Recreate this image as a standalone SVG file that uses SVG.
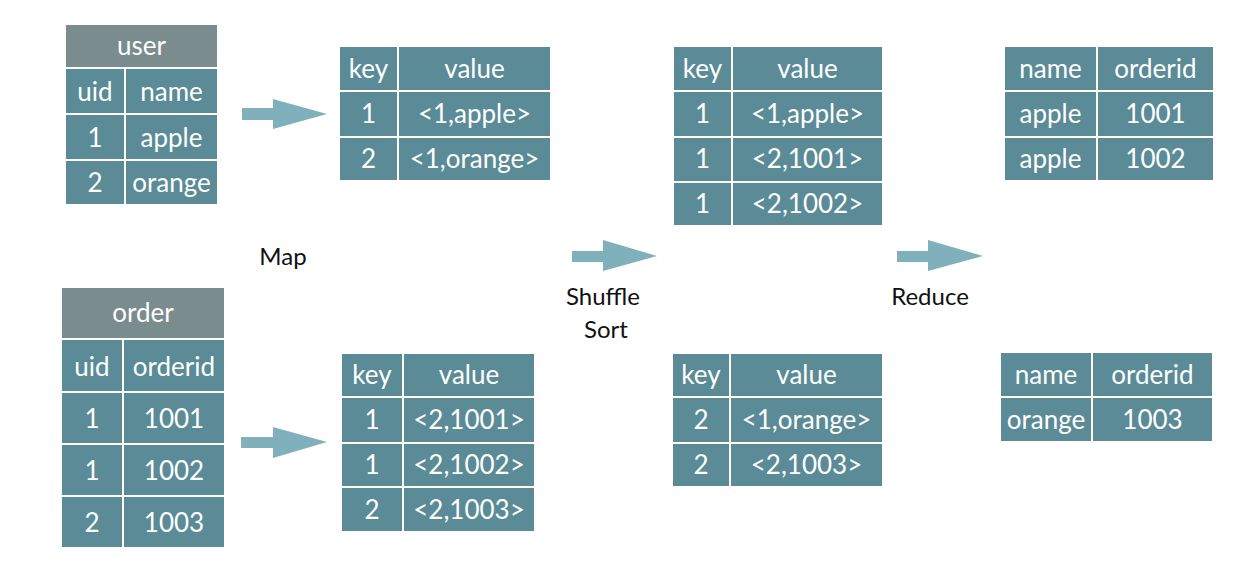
<svg xmlns="http://www.w3.org/2000/svg" width="1246" height="563" viewBox="0 0 1246 563">
<style>
.c{fill:#5a8b97;stroke:#ffffff;stroke-width:2}
.h{fill:#7a8c8e;stroke:#ffffff;stroke-width:2}
.t{font-family:"Lato","Open Sans",sans-serif;font-size:26px;fill:#ffffff;text-anchor:middle}
.l{font-family:"Lato","Open Sans",sans-serif;font-size:24px;fill:#111111;text-anchor:middle}
.a{fill:#7fb0bb}
</style>
<rect width="1246" height="563" fill="#ffffff"/>
<g id="user">
<rect class="h" x="65" y="24" width="153" height="44"/>
<rect class="c" x="65" y="68" width="60" height="46"/><rect class="c" x="125" y="68" width="93" height="46"/>
<rect class="c" x="65" y="114" width="60" height="46"/><rect class="c" x="125" y="114" width="93" height="46"/>
<rect class="c" x="65" y="160" width="60" height="45"/><rect class="c" x="125" y="160" width="93" height="45"/>
<text class="t" x="141.5" y="55">user</text>
<text class="t" x="95" y="101">uid</text><text class="t" x="171.5" y="101">name</text>
<text class="t" x="95" y="147">1</text><text class="t" x="171.5" y="147">apple</text>
<text class="t" x="95" y="192">2</text><text class="t" x="171.5" y="192">orange</text>
</g>
<g id="order">
<rect class="h" x="61" y="287" width="164" height="52"/>
<rect class="c" x="61" y="339" width="62" height="53"/><rect class="c" x="123" y="339" width="102" height="53"/>
<rect class="c" x="61" y="392" width="62" height="52"/><rect class="c" x="123" y="392" width="102" height="52"/>
<rect class="c" x="61" y="444" width="62" height="52"/><rect class="c" x="123" y="444" width="102" height="52"/>
<rect class="c" x="61" y="496" width="62" height="52"/><rect class="c" x="123" y="496" width="102" height="52"/>
<text class="t" x="143" y="322">order</text>
<text class="t" x="92" y="376">uid</text><text class="t" x="174" y="376">orderid</text>
<text class="t" x="92" y="428">1</text><text class="t" x="174" y="428">1001</text>
<text class="t" x="92" y="480">1</text><text class="t" x="174" y="480">1002</text>
<text class="t" x="92" y="532">2</text><text class="t" x="174" y="532">1003</text>
</g>
<g id="map1">
<rect class="c" x="339" y="46" width="59" height="45"/><rect class="c" x="398" y="46" width="153" height="45"/>
<rect class="c" x="339" y="91" width="59" height="46"/><rect class="c" x="398" y="91" width="153" height="46"/>
<rect class="c" x="339" y="137" width="59" height="44"/><rect class="c" x="398" y="137" width="153" height="44"/>
<text class="t" x="368.5" y="78">key</text><text class="t" x="474.5" y="78">value</text>
<text class="t" x="368.5" y="123">1</text><text class="t" x="474.5" y="123">&lt;1,apple&gt;</text>
<text class="t" x="368.5" y="168">2</text><text class="t" x="474.5" y="168">&lt;1,orange&gt;</text>
</g>
<g id="map2">
<rect class="c" x="341" y="353" width="62" height="44"/><rect class="c" x="403" y="353" width="132" height="44"/>
<rect class="c" x="341" y="397" width="62" height="46"/><rect class="c" x="403" y="397" width="132" height="46"/>
<rect class="c" x="341" y="443" width="62" height="44"/><rect class="c" x="403" y="443" width="132" height="44"/>
<rect class="c" x="341" y="487" width="62" height="45"/><rect class="c" x="403" y="487" width="132" height="45"/>
<text class="t" x="372" y="384">key</text><text class="t" x="469" y="384">value</text>
<text class="t" x="372" y="429">1</text><text class="t" x="469" y="429">&lt;2,1001&gt;</text>
<text class="t" x="372" y="474">1</text><text class="t" x="469" y="474">&lt;2,1002&gt;</text>
<text class="t" x="372" y="519">2</text><text class="t" x="469" y="519">&lt;2,1003&gt;</text>
</g>
<g id="shuffle1">
<rect class="c" x="673" y="46" width="59" height="45"/><rect class="c" x="732" y="46" width="151" height="45"/>
<rect class="c" x="673" y="91" width="59" height="46"/><rect class="c" x="732" y="91" width="151" height="46"/>
<rect class="c" x="673" y="137" width="59" height="45"/><rect class="c" x="732" y="137" width="151" height="45"/>
<rect class="c" x="673" y="182" width="59" height="44"/><rect class="c" x="732" y="182" width="151" height="44"/>
<text class="t" x="702.5" y="78">key</text><text class="t" x="807.5" y="78">value</text>
<text class="t" x="702.5" y="123">1</text><text class="t" x="807.5" y="123">&lt;1,apple&gt;</text>
<text class="t" x="702.5" y="168">1</text><text class="t" x="807.5" y="168">&lt;2,1001&gt;</text>
<text class="t" x="702.5" y="213">1</text><text class="t" x="807.5" y="213">&lt;2,1002&gt;</text>
</g>
<g id="shuffle2">
<rect class="c" x="672" y="353" width="58" height="44"/><rect class="c" x="730" y="353" width="153" height="44"/>
<rect class="c" x="672" y="397" width="58" height="46"/><rect class="c" x="730" y="397" width="153" height="46"/>
<rect class="c" x="672" y="443" width="58" height="44"/><rect class="c" x="730" y="443" width="153" height="44"/>
<text class="t" x="701" y="384">key</text><text class="t" x="806.5" y="384">value</text>
<text class="t" x="701" y="429">2</text><text class="t" x="806.5" y="429">&lt;1,orange&gt;</text>
<text class="t" x="701" y="474">2</text><text class="t" x="806.5" y="474">&lt;2,1003&gt;</text>
</g>
<g id="reduce1">
<rect class="c" x="1004" y="46" width="93" height="45"/><rect class="c" x="1097" y="46" width="117" height="45"/>
<rect class="c" x="1004" y="91" width="93" height="46"/><rect class="c" x="1097" y="91" width="117" height="46"/>
<rect class="c" x="1004" y="137" width="93" height="44"/><rect class="c" x="1097" y="137" width="117" height="44"/>
<text class="t" x="1050.5" y="78">name</text><text class="t" x="1155.5" y="78">orderid</text>
<text class="t" x="1050.5" y="123">apple</text><text class="t" x="1155.5" y="123">1001</text>
<text class="t" x="1050.5" y="168">apple</text><text class="t" x="1155.5" y="168">1002</text>
</g>
<g id="reduce2">
<rect class="c" x="1000" y="352" width="92" height="45"/><rect class="c" x="1092" y="352" width="121" height="45"/>
<rect class="c" x="1000" y="397" width="92" height="45"/><rect class="c" x="1092" y="397" width="121" height="45"/>
<text class="t" x="1046" y="384">name</text><text class="t" x="1152.5" y="384">orderid</text>
<text class="t" x="1046" y="429">orange</text><text class="t" x="1152.5" y="429">1003</text>
</g>
<g id="labels">
<text class="l" x="283" y="265">Map</text>
<text class="l" x="603" y="305">Shuffle</text>
<text class="l" x="606" y="338">Sort</text>
<text class="l" x="930" y="305">Reduce</text>
</g>
<g id="connectors">
<polygon class="a" points="242,108 273,108 273,99 327,114 273,129 273,120 242,120"/>
<polygon class="a" points="241,437 273,437 273,427 327,442 273,458 273,448 241,448"/>
<polygon class="a" points="572,251 603,251 603,240 657,256 603,271 603,262 572,262"/>
<polygon class="a" points="897,251 928,251 928,240 983,256 928,271 928,262 897,262"/>
</g>
</svg>
